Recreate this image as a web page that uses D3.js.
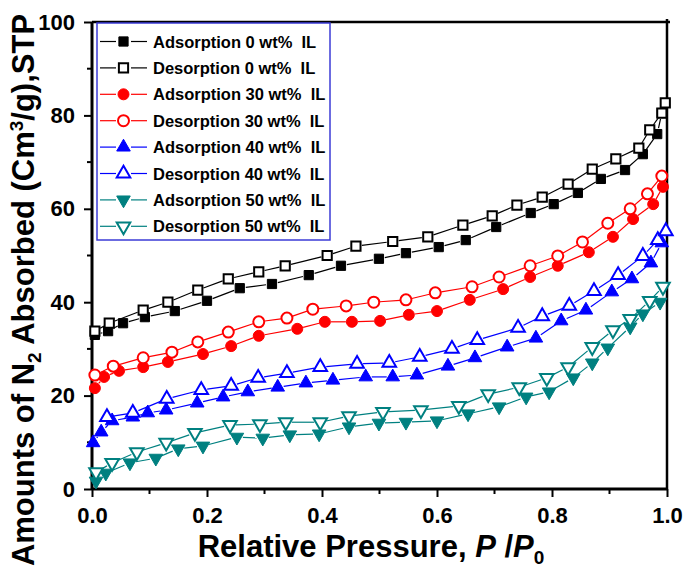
<!DOCTYPE html>
<html>
<head>
<meta charset="utf-8">
<script src="https://cdn.jsdelivr.net/npm/d3@7"></script>
<style>
  html, body { margin: 0; padding: 0; background: #fff; }
  svg { display: block; font-family: "Liberation Sans", Arial, sans-serif; font-weight: bold; }
</style>
</head>
<body>
<svg id="chart" width="685" height="582"></svg>
<script>
// ---- data ----
const ads0X = [0.005,0.028,0.054,0.092,0.144,0.200,0.257,0.313,0.377,0.433,0.499,0.546,0.603,0.650,0.703,0.763,0.803,0.845,0.885,0.927,0.958,0.983,0.991];
const ads0Y = [33.0,33.8,35.5,36.8,38.1,40.3,43.0,43.9,45.8,47.8,49.3,50.5,51.8,53.3,56.1,59.1,61.0,63.4,66.4,68.3,71.7,76.0,80.5];
const des0X = [0.005,0.030,0.089,0.132,0.184,0.237,0.290,0.336,0.409,0.459,0.523,0.584,0.645,0.696,0.739,0.783,0.828,0.870,0.911,0.951,0.970,0.991,0.997];
const des0Y = [33.8,35.5,38.3,40.0,42.6,45.0,46.5,47.8,50.0,52.0,53.0,54.0,56.5,58.5,60.8,62.5,65.3,68.5,70.7,73.0,76.9,80.5,82.7];

const ads30X = [0.005,0.021,0.047,0.089,0.132,0.193,0.242,0.290,0.357,0.405,0.452,0.501,0.551,0.600,0.657,0.715,0.762,0.810,0.864,0.906,0.941,0.976,0.993];
const ads30Y = [21.6,24.0,25.3,26.1,27.2,28.9,30.6,32.8,34.3,35.8,35.8,36.0,37.3,38.1,40.5,42.8,45.4,47.8,50.7,54.0,57.8,61.0,64.7];
const des30X = [0.005,0.037,0.089,0.139,0.184,0.237,0.290,0.339,0.384,0.442,0.490,0.546,0.597,0.661,0.708,0.762,0.810,0.853,0.897,0.936,0.966,0.991];
const des30Y = [24.4,26.3,28.1,29.3,31.5,33.6,35.8,36.6,38.5,39.2,40.0,40.5,42.0,43.3,45.4,47.8,49.9,52.9,56.9,60.0,63.2,67.0];

const ads40X = [0.002,0.016,0.035,0.071,0.097,0.129,0.183,0.228,0.271,0.323,0.372,0.419,0.476,0.523,0.565,0.619,0.666,0.722,0.772,0.816,0.859,0.904,0.939,0.972,0.991];
const ads40Y = [9.9,12.2,14.6,15.4,16.3,16.9,18.4,19.7,20.8,21.8,22.7,23.3,24.0,24.0,24.4,26.3,28.1,30.4,32.3,36.0,38.3,42.2,45.0,48.4,52.7];
const des40X = [0.026,0.071,0.130,0.190,0.242,0.289,0.339,0.397,0.461,0.517,0.570,0.626,0.670,0.741,0.783,0.830,0.873,0.915,0.958,0.984,0.998];
const des40Y = [15.4,16.3,19.3,21.2,22.1,23.8,24.8,26.1,26.8,27.0,28.3,30.0,31.9,34.5,37.0,39.2,42.4,45.8,49.9,53.3,55.2];

const ads50X = [0.007,0.024,0.066,0.111,0.150,0.193,0.252,0.297,0.344,0.395,0.447,0.499,0.546,0.600,0.654,0.708,0.755,0.795,0.837,0.870,0.897,0.936,0.958,0.988];
const ads50Y = [1.7,3.4,5.6,6.6,8.6,9.2,11.1,10.9,11.6,11.8,13.3,14.1,14.3,14.6,16.1,17.6,19.7,20.8,23.8,27.0,30.2,34.7,37.5,40.0];
const des50X = [0.007,0.035,0.078,0.129,0.179,0.240,0.292,0.337,0.397,0.447,0.506,0.572,0.638,0.689,0.743,0.791,0.828,0.870,0.906,0.936,0.970,0.993];
const des50Y = [3.6,5.6,7.9,9.9,12.0,13.7,13.9,14.3,14.3,15.6,16.5,16.9,17.8,20.3,21.8,23.8,26.1,30.4,34.0,36.4,40.3,43.3];

const seriesNames = ["Adsorption 0 wt%  IL","Desorption 0 wt%  IL","Adsorption 30 wt%  IL","Desorption 30 wt%  IL",
                     "Adsorption 40 wt%  IL","Desorption 40 wt%  IL","Adsorption 50 wt%  IL","Desorption 50 wt%  IL"];
const xTicks = [0.0, 0.2, 0.4, 0.6, 0.8, 1.0];
const yTicks = [0, 20, 40, 60, 80, 100];

// ---- styling ----
const colors = { k: "#000000", r: "#ff0000", b: "#0000ff", t: "#008080" };
const series = [
  { name: seriesNames[0], xs: ads0X,  ys: ads0Y,  color: colors.k, shape: "square",   open: false },
  { name: seriesNames[1], xs: des0X,  ys: des0Y,  color: colors.k, shape: "square",   open: true },
  { name: seriesNames[2], xs: ads30X, ys: ads30Y, color: colors.r, shape: "circle",   open: false },
  { name: seriesNames[3], xs: des30X, ys: des30Y, color: colors.r, shape: "circle",   open: true },
  { name: seriesNames[4], xs: ads40X, ys: ads40Y, color: colors.b, shape: "triangle", open: false },
  { name: seriesNames[5], xs: des40X, ys: des40Y, color: colors.b, shape: "triangle", open: true },
  { name: seriesNames[6], xs: ads50X, ys: ads50Y, color: colors.t, shape: "down",     open: false },
  { name: seriesNames[7], xs: des50X, ys: des50Y, color: colors.t, shape: "down",     open: true }
];

const W = 685, H = 582;
const margin = { left: 92, right: 18, top: 22, bottom: 93 };
const svg = d3.select("#chart");

const x = d3.scaleLinear().domain([0, 1]).range([margin.left, W - margin.right]);
const y = d3.scaleLinear().domain([0, 100]).range([H - margin.bottom, margin.top]);

function symbolPath(shape) {
  if (shape === "square") return d3.symbol().type(d3.symbolSquare).size(85)();
  if (shape === "circle") return d3.symbol().type(d3.symbolCircle).size(95)();
  return d3.symbol().type(d3.symbolTriangle).size(80)();
}

// ---- frame ----
const frame = svg.append("g");
frame.append("line").attr("x1", x(0)).attr("x2", x(1) + 3).attr("y1", y(100)).attr("y2", y(100))
  .attr("stroke", "#000").attr("stroke-width", 2.5);
frame.append("line").attr("x1", x(1)).attr("x2", x(1)).attr("y1", y(100) - 3).attr("y2", y(0))
  .attr("stroke", "#000").attr("stroke-width", 2.5);

// ---- axes ----
const xAxis = d3.axisBottom(x).tickValues(xTicks).tickFormat(d3.format(".1f")).tickSize(8).tickPadding(10);
const gx = svg.append("g").attr("transform", `translate(0,${y(0)})`).call(xAxis);
const xMinor = d3.range(0.1, 1, 0.2);
gx.selectAll(".minor").data(xMinor).enter().append("line")
  .attr("x1", d => x(d)).attr("x2", d => x(d)).attr("y1", 0).attr("y2", 5)
  .attr("stroke", "#000").attr("stroke-width", 2);

const yAxis = d3.axisLeft(y).tickValues(yTicks).tickFormat(d3.format("d")).tickSize(8).tickPadding(9);
const gy = svg.append("g").attr("transform", `translate(${x(0)},0)`).call(yAxis);
const yMinor = d3.range(10, 100, 20);
gy.selectAll(".minor").data(yMinor).enter().append("line")
  .attr("x1", 0).attr("x2", -5).attr("y1", d => y(d)).attr("y2", d => y(d))
  .attr("stroke", "#000").attr("stroke-width", 2);

[gx, gy].forEach(g => {
  g.select(".domain").attr("stroke", "#000").attr("stroke-width", 3);
  g.selectAll(".tick line").attr("stroke", "#000").attr("stroke-width", 2);
  g.selectAll(".tick text").attr("fill", "#000").style("font-size", "22px").style("font-weight", "bold")
    .style("font-family", "'Liberation Sans', Arial, sans-serif");
});
gx.select(".domain").attr("d", `M${x(0)},0H${x(1)}`);
gy.select(".domain").attr("d", `M0,${y(0)}V${y(100)}`);

// ---- series ----
const GAP = 6;
series.forEach(s => {
  const g = svg.append("g");
  const pts = s.xs.map((v, i) => [x(v), y(s.ys[i])]);
  for (let i = 0; i < pts.length - 1; i++) {
    const [x1, y1] = pts[i], [x2, y2] = pts[i + 1];
    const dx = x2 - x1, dy = y2 - y1, L = Math.hypot(dx, dy);
    if (L <= 2 * GAP + 1) continue;
    const ux = dx / L, uy = dy / L;
    g.append("line")
      .attr("x1", x1 + ux * GAP).attr("y1", y1 + uy * GAP)
      .attr("x2", x2 - ux * GAP).attr("y2", y2 - uy * GAP)
      .attr("stroke", s.color).attr("stroke-width", 1.2);
  }
  const path = symbolPath(s.shape);
  g.selectAll("path.m").data(pts).enter().append("path")
    .attr("d", path)
    .attr("transform", d => `translate(${d[0]},${d[1]})` + (s.shape === "down" ? " rotate(180)" : ""))
    .attr("fill", s.open ? "#fff" : s.color)
    .attr("stroke", s.color).attr("stroke-width", s.open ? 2 : 1);
});

// ---- legend ----
const lg = svg.append("g");
const lgX = 97, lgY = 23, lgW = 233, lgH = 217, rowH = 26.4;
lg.append("rect").attr("x", lgX).attr("y", lgY).attr("width", lgW).attr("height", lgH)
  .attr("fill", "#fff").attr("stroke", "#3b3bd6").attr("stroke-width", 1.5);
series.forEach((s, i) => {
  const cy = lgY + 18.5 + i * rowH;
  lg.append("line").attr("x1", 100).attr("x2", 116).attr("y1", cy).attr("y2", cy)
    .attr("stroke", s.color).attr("stroke-width", 1.2);
  lg.append("line").attr("x1", 131).attr("x2", 147).attr("y1", cy).attr("y2", cy)
    .attr("stroke", s.color).attr("stroke-width", 1.2);
  lg.append("path").attr("d", symbolPath(s.shape))
    .attr("transform", `translate(123.5,${cy})` + (s.shape === "down" ? " rotate(180)" : ""))
    .attr("fill", s.open ? "#fff" : s.color)
    .attr("stroke", s.color).attr("stroke-width", s.open ? 2 : 1);
  lg.append("text").attr("x", 153).attr("y", cy + 6)
    .style("font-size", "16.5px").style("white-space", "pre").attr("fill", "#000")
    .text(s.name);
});

// ---- axis titles ----
const xt = svg.append("text").attr("x", 371).attr("y", 557).attr("text-anchor", "middle")
  .style("font-size", "31px").attr("fill", "#000");
xt.append("tspan").text("Relative Pressure, ");
xt.append("tspan").style("font-style", "italic").text("P");
xt.append("tspan").text(" /");
xt.append("tspan").style("font-style", "italic").text("P");
xt.append("tspan").attr("dy", 7).style("font-size", "19px").text("0");

const yt = svg.append("text").attr("transform", "translate(34,290) rotate(-90)").attr("text-anchor", "middle")
  .style("font-size", "31px").attr("fill", "#000");
yt.append("tspan").text("Amounts of N");
yt.append("tspan").attr("dy", 7).style("font-size", "19px").text("2");
yt.append("tspan").attr("dy", -7).text(" Absorbed (Cm");
yt.append("tspan").attr("dy", -11).style("font-size", "19px").text("3");
yt.append("tspan").attr("dy", 11).text("/g),STP");
</script>
</body>
</html>
